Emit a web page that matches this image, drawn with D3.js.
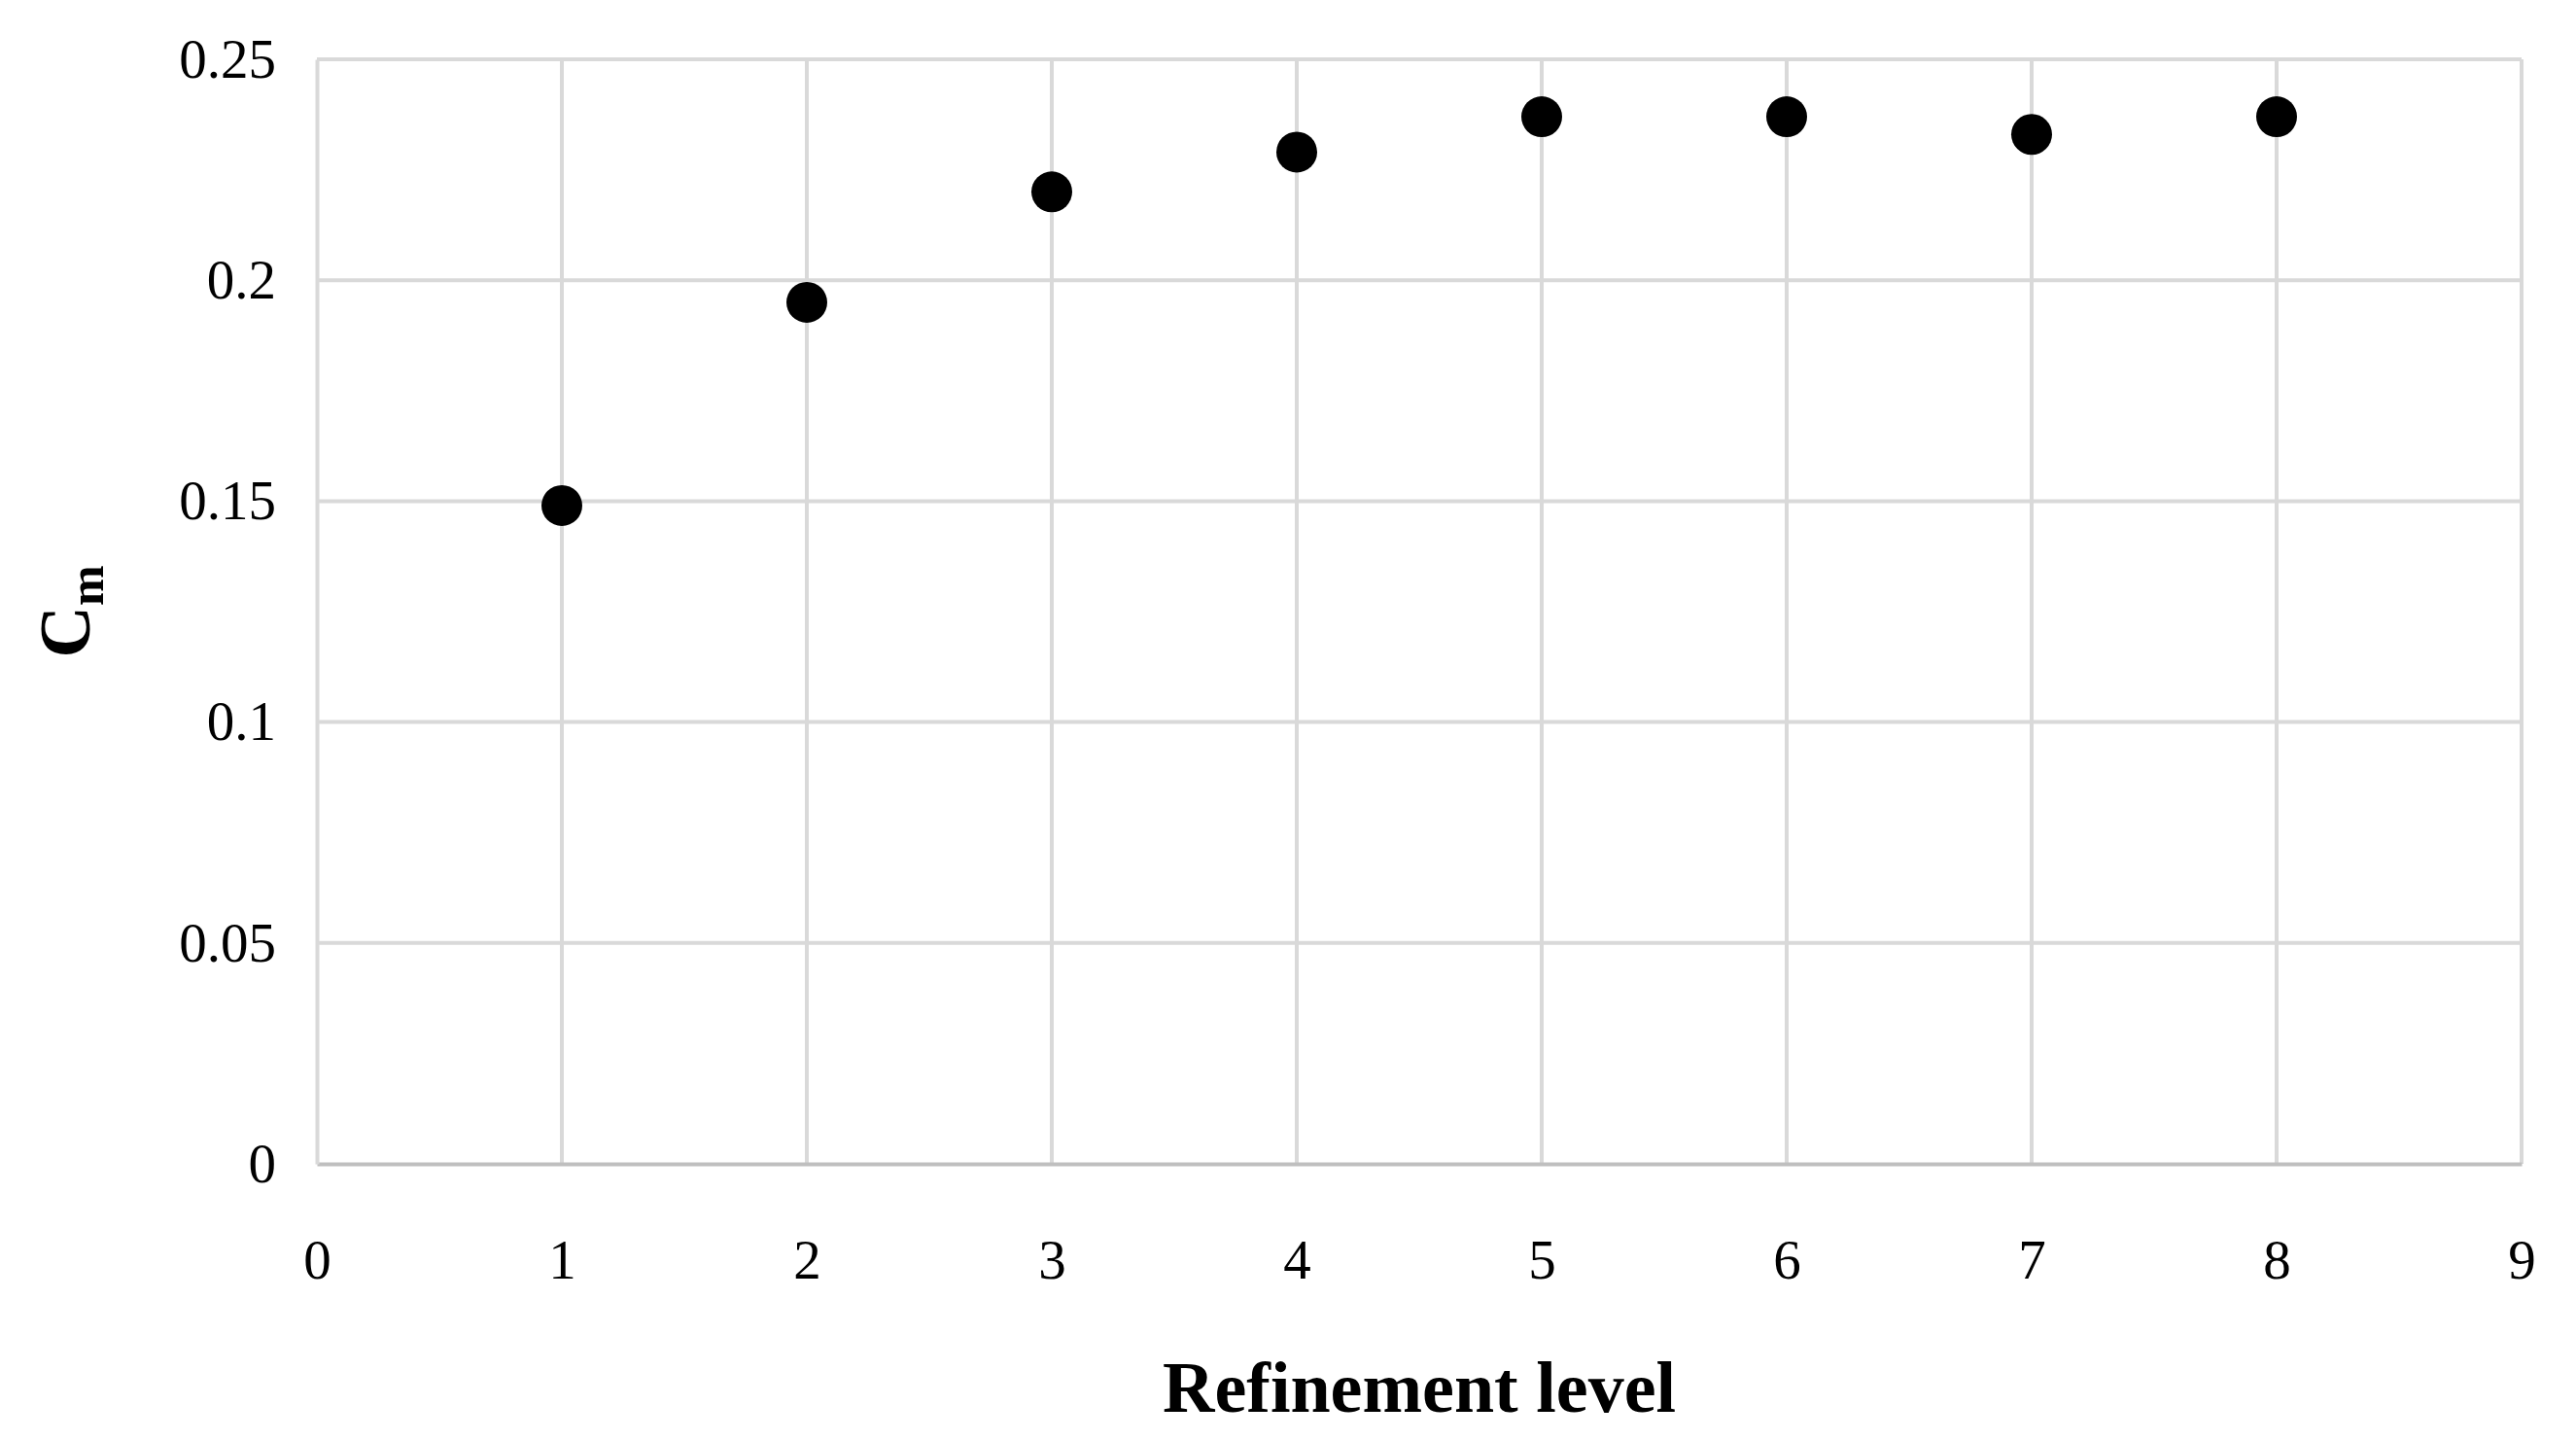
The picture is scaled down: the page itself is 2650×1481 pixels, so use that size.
<!DOCTYPE html>
<html>
<head>
<meta charset="utf-8">
<script src="https://cdn.jsdelivr.net/npm/d3@7"></script>
<style>
  body { margin: 0; background: #fff; }
  text { font-family: "Liberation Serif", "DejaVu Serif", serif; }
</style>
</head>
<body>
<svg></svg>
<script>
// Refinement level vs Cm
const levels = [1, 2, 3, 4, 5, 6, 7, 8];
const cmValues = [0.149, 0.195, 0.220, 0.229, 0.237, 0.237, 0.233, 0.237];
const xTicks = [0, 1, 2, 3, 4, 5, 6, 7, 8, 9];
const yTicks = [0, 0.05, 0.1, 0.15, 0.2, 0.25];

function chart() {
    const canvasWidth = 2650;
    const canvasHeight = 1481;
    const marginLeft = 326;
    const marginRight = 56;
    const marginTop = 61;
    const marginBot = 284;

    let svg = d3.select("svg")
        .attr("width", canvasWidth)
        .attr("height", canvasHeight);

    let xScale = d3.scaleLinear()
        .domain([0, 9])
        .range([marginLeft, canvasWidth - marginRight]);
    let yScale = d3.scaleLinear()
        .domain([0, 0.25])
        .range([canvasHeight - marginBot, marginTop]);

    // grid lines
    svg.append("g").selectAll("line.v")
        .data(xTicks.slice(1))
        .join("line")
        .attr("x1", d => xScale(d)).attr("x2", d => xScale(d))
        .attr("y1", yScale(0)).attr("y2", yScale(0.25))
        .attr("stroke", "#d9d9d9").attr("stroke-width", 4);
    svg.append("g").selectAll("line.h")
        .data(yTicks.slice(1))
        .join("line")
        .attr("x1", xScale(0)).attr("x2", xScale(9))
        .attr("y1", d => yScale(d)).attr("y2", d => yScale(d))
        .attr("stroke", "#d9d9d9").attr("stroke-width", 4);

    // axes
    let xAxis = svg.append("g")
        .attr("transform", `translate(0, ${yScale(0)})`)
        .call(d3.axisBottom(xScale).tickValues(xTicks).tickSize(0).tickPadding(78).tickFormat(d3.format("d")));
    xAxis.select(".domain").attr("stroke", "#bfbfbf").attr("stroke-width", 4);
    xAxis.selectAll("text").attr("font-size", 57).attr("fill", "#000");

    let yAxis = svg.append("g")
        .attr("transform", `translate(${xScale(0)}, 0)`)
        .call(d3.axisLeft(yScale).tickValues(yTicks).tickSize(0).tickPadding(42).tickFormat(d => String(d)));
    yAxis.select(".domain").attr("stroke", "#d9d9d9").attr("stroke-width", 4);
    yAxis.selectAll("text").attr("font-size", 57).attr("fill", "#000");

    // points
    svg.append("g").selectAll("circle")
        .data(levels)
        .join("circle")
        .attr("cx", d => xScale(d))
        .attr("cy", (d, i) => yScale(cmValues[i]))
        .attr("r", 21)
        .attr("fill", "#000");

    // x title
    svg.append("text")
        .text("Refinement level")
        .attr("x", (xScale(0) + xScale(9)) / 2)
        .attr("y", 1452)
        .attr("font-size", 74)
        .attr("font-weight", "bold")
        .style("text-anchor", "middle");

    // y title
    let yt = svg.append("text")
        .attr("font-size", 74)
        .attr("font-weight", "bold")
        .attr("transform", `translate(92, ${(yScale(0) + yScale(0.25)) / 2}) rotate(-90)`)
        .style("text-anchor", "middle");
    yt.append("tspan").text("C");
    yt.append("tspan").text("m").attr("font-size", 50).attr("dy", 14);
}

chart();
</script>
</body>
</html>
